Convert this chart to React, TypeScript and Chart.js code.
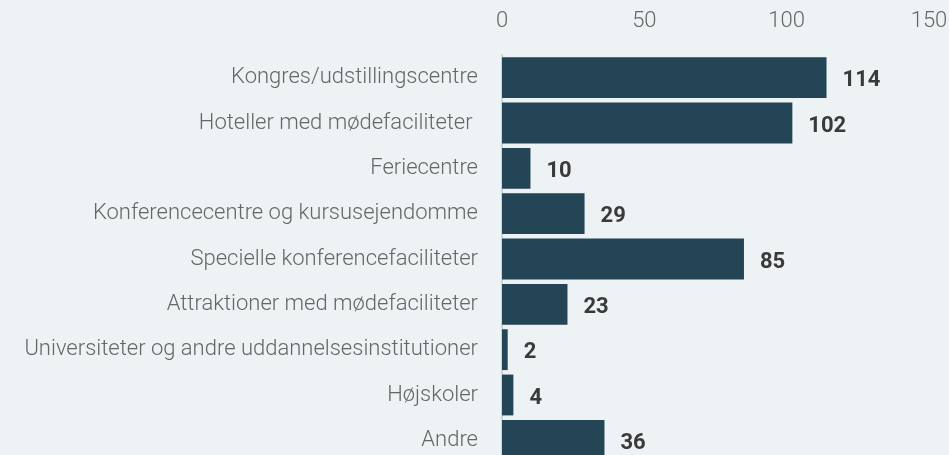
import React, { useEffect, useRef } from "react";
import { Chart, registerables } from "chart.js";

Chart.register(...registerables);

const categories = [
  "Kongres/udstillingscentre",
  "Hoteller med mødefaciliteter ",
  "Feriecentre",
  "Konferencecentre og kursusejendomme",
  "Specielle konferencefaciliteter",
  "Attraktioner med mødefaciliteter",
  "Universiteter og andre uddannelsesinstitutioner",
  "Højskoler",
  "Andre",
];
const values = [114, 102, 10, 29, 85, 23, 2, 4, 36];
const xTicks = [0, 50, 100, 150];

const BG = "#edf2f5";
const BAR = "#234556";
const FONT = "Roboto, 'DejaVu Sans', sans-serif";

const valueLabels = {
  id: "valueLabels",
  afterDatasetsDraw(chart: any) {
    const ctx = chart.ctx;
    const meta = chart.getDatasetMeta(0);
    ctx.save();
    ctx.font = "bold 22px " + FONT;
    ctx.fillStyle = "#3a3a3a";
    ctx.textAlign = "left";
    ctx.textBaseline = "middle";
    meta.data.forEach((el: any, i: number) => {
      ctx.fillText(String(values[i]), el.x + 16, el.y + 3);
    });
    ctx.restore();
  },
};

const bgPlugin = {
  id: "bgPlugin",
  beforeDraw(chart: any) {
    const ctx = chart.ctx;
    ctx.save();
    ctx.fillStyle = BG;
    ctx.fillRect(0, 0, chart.width, chart.height);
    ctx.restore();
  },
};

export default function App() {
  const ref = useRef<HTMLCanvasElement>(null);
  useEffect(() => {
    document.body.style.margin = "0";
    document.body.style.background = BG;
    const chart = new Chart(ref.current!, {
      type: "bar",
      data: {
        labels: categories,
        datasets: [
          {
            data: values,
            backgroundColor: BAR,
            categoryPercentage: 1,
            barPercentage: 0.9,
          },
        ],
      },
      options: {
        indexAxis: "y",
        animation: false,
        responsive: true,
        maintainAspectRatio: false,
        layout: { padding: { left: 0, right: 20, top: 0, bottom: 7 } },
        plugins: { legend: { display: false }, tooltip: { enabled: false } },
        scales: {
          x: {
            position: "top",
            min: 0,
            max: 150,
            afterBuildTicks(scale: any) {
              scale.ticks = xTicks.map((v) => ({ value: v }));
            },
            afterFit(scale: any) {
              scale.height = 55;
              scale.paddingLeft = 0;
              scale.paddingRight = 0;
            },
            grid: { display: false, drawTicks: false },
            border: { display: false },
            ticks: {
              color: "#666",
              padding: 20,
              font: { family: FONT, size: 22, weight: 300 },
            },
          },
          y: {
            afterFit(scale: any) {
              scale.width = 502;
              scale.paddingTop = 0;
              scale.paddingBottom = 0;
            },
            grid: { display: false, drawTicks: false },
            border: { display: true, color: "#cfd4d8", width: 2 },
            ticks: {
              color: "#666",
              padding: 24,
              font: { family: FONT, size: 22, weight: 300 },
            },
          },
        },
      },
      plugins: [bgPlugin, valueLabels],
    });
    return () => chart.destroy();
  }, []);
  return (
    <div style={{ width: 949, height: 455, overflow: "hidden", background: BG }}>
      <div style={{ position: "relative", width: 949, height: 470 }}>
        <canvas ref={ref} />
      </div>
    </div>
  );
}
